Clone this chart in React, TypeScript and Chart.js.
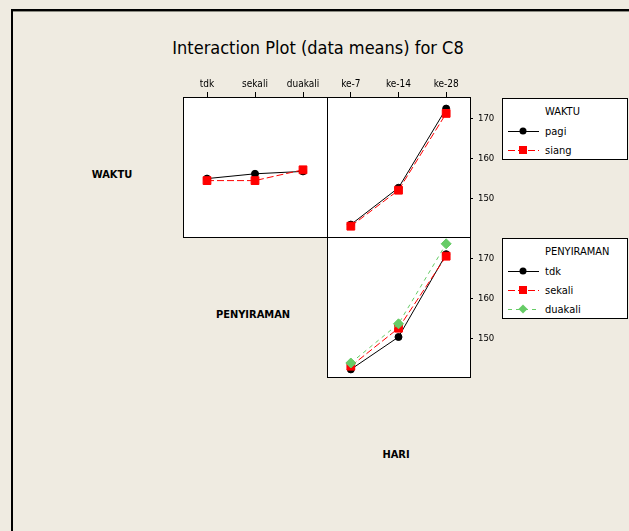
import React, { useEffect, useRef } from 'react';
import { Chart, registerables } from 'chart.js';
Chart.register(...registerables);

// ---------- data ----------
const penyiramanCats = ['tdk', 'sekali', 'duakali'];
const hariCats = ['ke-7', 'ke-14', 'ke-28'];
const yTicks = [150, 160, 170];
const waktuLevels = ['pagi', 'siang'];
const penyiramanLevels = ['tdk', 'sekali', 'duakali'];

// WAKTU x PENYIRAMAN
const wpPagi = [155.0, 156.2, 156.8];
const wpSiang = [154.5, 154.5, 157.2];
// WAKTU x HARI
const whPagi = [143.5, 152.7, 172.5];
const whSiang = [143.1, 152.1, 171.3];
// PENYIRAMAN x HARI
const phTdk = [142.3, 150.4, 171.1];
const phSekali = [143.1, 152.6, 170.6];
const phDuakali = [143.9, 153.7, 173.7];

const yMin = 140.4;
const yMax = 175.4;

const FONT = "'DejaVu Sans Condensed', 'DejaVu Sans', sans-serif";
const BG = '#EFEBE1';

const styles = [
  { color: '#000000', pointStyle: 'circle', radius: 3.5, dash: [] as number[], order: 3 },
  { color: '#FF0000', pointStyle: 'rect', radius: 5.5, dash: [7, 3], order: 2 },
  { color: '#66CC66', pointStyle: 'rectRot', radius: 5, dash: [4, 4], order: 1 },
];

function mkDataset(label: string, data: number[], i: number) {
  const s = styles[i];
  return {
    label,
    data,
    borderColor: s.color,
    backgroundColor: s.color,
    pointBackgroundColor: s.color,
    pointBorderColor: s.color,
    pointBorderWidth: 1,
    pointStyle: s.pointStyle,
    pointRadius: s.radius,
    borderWidth: 1,
    borderDash: s.dash,
    tension: 0,
    order: s.order,
    clip: false as any,
  };
}

const framePlugin = {
  id: 'frame',
  beforeDraw(chart: any) {
    const { ctx, chartArea } = chart;
    const { left, top, width, height } = chartArea;
    ctx.save();
    ctx.fillStyle = '#ffffff';
    ctx.fillRect(left, top, width, height);
    ctx.restore();
  },
  afterDraw(chart: any) {
    const { ctx, chartArea } = chart;
    const { left, top, width, height } = chartArea;
    ctx.save();
    ctx.strokeStyle = '#000000';
    ctx.lineWidth = 1;
    ctx.strokeRect(left + 0.5, top + 0.5, width, height);
    ctx.restore();
  },
};

function xAxis(cats: string[], show: boolean) {
  return {
    type: 'category',
    labels: cats,
    position: 'top',
    offset: true,
    display: show,
    grid: { display: true, drawOnChartArea: false, drawTicks: true, tickLength: 5, color: '#000', lineWidth: 1 },
    border: { display: false },
    ticks: { color: '#000', font: { family: FONT, size: 10 }, padding: 2, maxRotation: 0, autoSkip: false },
    afterFit(s: any) {
      s.height = show ? 27 : 0;
      s.paddingLeft = 0; s.paddingRight = 0; s.paddingTop = 0; s.paddingBottom = 0;
    },
  };
}

function yAxis(show: boolean) {
  return {
    type: 'linear',
    position: 'right',
    min: yMin,
    max: yMax,
    display: show,
    afterBuildTicks(s: any) { s.ticks = yTicks.map((v) => ({ value: v })); },
    grid: { display: true, drawOnChartArea: false, drawTicks: true, tickLength: 3, color: '#000', lineWidth: 1 },
    border: { display: false },
    ticks: { color: '#000', font: { family: FONT, size: 9.5 }, padding: 5 },
    afterFit(s: any) {
      s.width = show ? 30 : 0;
      s.paddingLeft = 0; s.paddingRight = 0; s.paddingTop = 0; s.paddingBottom = 0;
    },
  };
}

function Panel(props: {
  left: number; top: number; width: number; height: number;
  padding: any; cats: string[]; showX: boolean; showY: boolean; datasets: any[];
}) {
  const ref = useRef<HTMLCanvasElement | null>(null);
  useEffect(() => {
    if (!ref.current) return;
    const chart = new Chart(ref.current, {
      type: 'line',
      data: { labels: props.cats, datasets: props.datasets },
      options: {
        responsive: false,
        animation: false,
        events: [],
        layout: { padding: props.padding, autoPadding: false },
        plugins: { legend: { display: false }, tooltip: { enabled: false }, title: { display: false } },
        scales: { x: xAxis(props.cats, props.showX) as any, y: yAxis(props.showY) as any },
      },
      plugins: [framePlugin],
    });
    return () => chart.destroy();
  }, []);
  return (
    <canvas
      ref={ref}
      width={props.width}
      height={props.height}
      style={{ position: 'absolute', left: props.left, top: props.top, width: props.width, height: props.height }}
    />
  );
}

function Marker(props: { i: number }) {
  const s = styles[props.i];
  let m: any = null;
  if (s.pointStyle === 'circle') m = <circle cx={16} cy={6} r={3.5} fill={s.color} />;
  else if (s.pointStyle === 'rect') m = <rect x={12} y={2} width={8} height={8} fill={s.color} />;
  else m = <polygon points="16,1.5 20.5,6 16,10.5 11.5,6" fill={s.color} />;
  return (
    <svg width={34} height={12} style={{ position: 'absolute', left: 0, top: -6 }}>
      <line x1={1} y1={6.5} x2={32} y2={6.5} stroke={s.color} strokeWidth={1}
        strokeDasharray={s.dash.length ? s.dash.join(',') : undefined} />
      {m}
    </svg>
  );
}

function LegendBox(props: { top: number; height: number; title: string; items: string[] }) {
  return (
    <div style={{
      position: 'absolute', left: 502, top: props.top, width: 126, height: props.height,
      boxSizing: 'border-box', border: '1px solid #000', background: '#ffffff',
      fontFamily: FONT, fontSize: 11, color: '#000',
    }}>
      <div style={{ position: 'absolute', left: 42, top: 12, transform: 'translateY(-50%)', whiteSpace: 'nowrap' }}>{props.title}</div>
      {props.items.map((t, i) => (
        <div key={t} style={{ position: 'absolute', left: 4, top: 32 + i * 19, width: 110 }}>
          <Marker i={i} />
          <div style={{ position: 'absolute', left: 38, top: 0, transform: 'translateY(-50%)', whiteSpace: 'nowrap' }}>{t}</div>
        </div>
      ))}
    </div>
  );
}

function Label(props: { x: number; y: number; text: string; bold?: boolean; size: number }) {
  return (
    <div style={{
      position: 'absolute', left: props.x, top: props.y, transform: 'translate(-50%, -50%)',
      fontFamily: FONT, fontSize: props.size, fontWeight: props.bold ? 'bold' : 'normal',
      color: '#000', whiteSpace: 'nowrap',
    }}>{props.text}</div>
  );
}

export default function App() {
  const dsWP = [mkDataset(waktuLevels[0], wpPagi, 0), mkDataset(waktuLevels[1], wpSiang, 1)];
  const dsWH = [mkDataset(waktuLevels[0], whPagi, 0), mkDataset(waktuLevels[1], whSiang, 1)];
  const dsPH = [
    mkDataset(penyiramanLevels[0], phTdk, 0),
    mkDataset(penyiramanLevels[1], phSekali, 1),
    mkDataset(penyiramanLevels[2], phDuakali, 2),
  ];
  return (
    <div style={{ position: 'fixed', left: 0, top: 0, width: 629, height: 531, background: BG, overflow: 'hidden' }}>
      <div style={{
        position: 'absolute', left: 11, top: 9, width: 700, height: 600,
        borderLeft: '2px solid #000', borderTop: '2px solid #000',
      }} />
      <div style={{ position: 'absolute', left: 13, top: 11, width: 700, height: 1, background: '#8a8a80' }} />
      <Label x={318} y={47} text="Interaction Plot (data means) for C8" size={18} />
      <Panel left={173} top={70} width={164} height={170} padding={{ left: 10, right: 10, top: 0, bottom: 3 }}
        cats={penyiramanCats} showX={true} showY={false} datasets={dsWP} />
      <Panel left={317} top={70} width={188} height={170} padding={{ left: 10, right: 5, top: 0, bottom: 3 }}
        cats={hariCats} showX={true} showY={true} datasets={dsWH} />
      <Panel left={317} top={227} width={188} height={160} padding={{ left: 10, right: 5, top: 10, bottom: 10 }}
        cats={hariCats} showX={false} showY={true} datasets={dsPH} />
      <Label x={112} y={174} text="WAKTU" bold size={11} />
      <Label x={253} y={314} text="PENYIRAMAN" bold size={11} />
      <Label x={396} y={454} text="HARI" bold size={11} />
      <LegendBox top={98} height={62} title="WAKTU" items={waktuLevels} />
      <LegendBox top={238} height={81} title="PENYIRAMAN" items={penyiramanLevels} />
    </div>
  );
}
